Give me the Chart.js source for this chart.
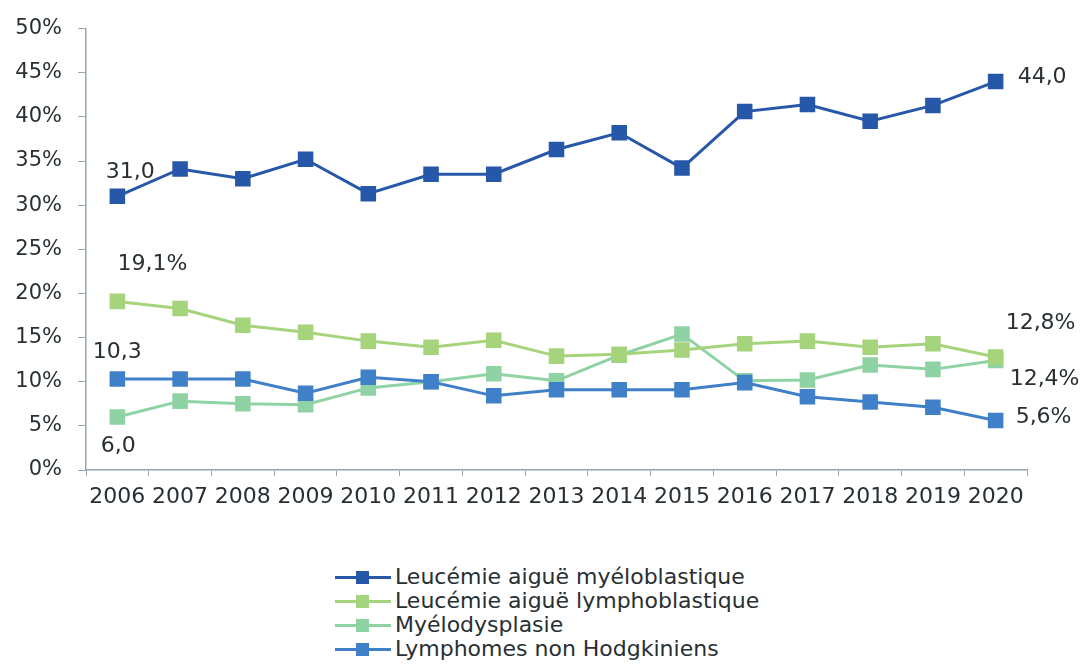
<!DOCTYPE html>
<html>
<head>
<meta charset="utf-8">
<script src="https://cdn.jsdelivr.net/npm/chart.js@4"></script>
<style>
  body { margin: 0; background: #fff; }
  #wrap { position: relative; width: 1089px; height: 668px; }
  #legend { position: absolute; left: 335px; top: 565px; font-family: "DejaVu Sans", sans-serif; font-size: 22px; color: #283033; }
  .item { height: 24px; line-height: 24px; display: flex; align-items: center; }
  .mark { position: relative; width: 56px; height: 24px; margin-right: 4px; }
  .mark .ln { position: absolute; left: 0; right: 0; top: 11px; height: 3px; }
  .mark .sq { position: absolute; left: 21px; top: 6px; width: 13px; height: 13px; }
</style>
</head>
<body>
<div id="wrap">
  <canvas id="chart" width="1089" height="540"></canvas>
  <div id="legend"></div>
</div>
<script>
const years = ['2006', '2007', '2008', '2009', '2010', '2011', '2012', '2013', '2014', '2015', '2016', '2017', '2018', '2019', '2020'];
const seriesNames = ['Leucémie aiguë myéloblastique', 'Leucémie aiguë lymphoblastique', 'Myélodysplasie', 'Lymphomes non Hodgkiniens'];
const lam = [31.0, 34.1, 33.0, 35.2, 31.3, 33.5, 33.5, 36.3, 38.2, 34.2, 40.6, 41.4, 39.5, 41.3, 44.0];
const lal = [19.1, 18.3, 16.4, 15.6, 14.6, 13.9, 14.7, 12.9, 13.1, 13.6, 14.3, 14.6, 13.9, 14.3, 12.8];
const myelo = [6.0, 7.8, 7.5, 7.4, 9.3, 10.0, 10.9, 10.1, 13.0, 15.4, 10.1, 10.2, 11.9, 11.4, 12.4];
const lnh = [10.3, 10.3, 10.3, 8.7, 10.5, 10.0, 8.4, 9.1, 9.1, 9.1, 9.9, 8.3, 7.7, 7.1, 5.6];
const yTicks = [0, 5, 10, 15, 20, 25, 30, 35, 40, 45, 50];

const colors = ['#2757a8', '#a6d47c', '#8fd2a4', '#4080c8'];
const allData = [lam, lal, myelo, lnh];
const drawOrder = [0, 2, 3, 1];

// end labels: [series, point, with %, dx, dy, align]
const endLabels = [
  [0, 0, false, 13, -24, 'center'],
  [1, 0, true, 35, -37, 'center'],
  [3, 0, false, 0, -27, 'center'],
  [2, 0, false, 1, 29, 'center'],
  [0, 14, false, 22, -4, 'left'],
  [1, 14, true, 10, -34, 'left'],
  [2, 14, true, 14, 19, 'left'],
  [3, 14, true, 20, -3, 'left']
];

function fmt(v, pct) {
  return v.toFixed(1).replace('.', ',') + (pct ? '%' : '');
}

const labelPlugin = {
  id: 'endLabels',
  afterDatasetsDraw(chart) {
    const ctx = chart.ctx;
    ctx.save();
    ctx.font = '22px "DejaVu Sans"';
    ctx.fillStyle = '#283033';
    ctx.textBaseline = 'middle';
    endLabels.forEach(l => {
      const pt = chart.getDatasetMeta(l[0]).data[l[1]];
      ctx.textAlign = l[5];
      ctx.fillText(fmt(allData[l[0]][l[1]], l[2]), pt.x + l[3], pt.y + l[4]);
    });
    ctx.restore();
  }
};

const axisColor = '#94a7b0';

new Chart(document.getElementById('chart'), {
  type: 'line',
  data: {
    labels: years,
    datasets: allData.map((d, i) => ({
      label: seriesNames[i],
      data: d,
      borderColor: colors[i],
      backgroundColor: colors[i],
      borderWidth: 3,
      pointStyle: 'rect',
      pointRadius: 11,
      pointHoverRadius: 11,
      pointBorderWidth: 0,
      tension: 0,
      order: drawOrder[i]
    }))
  },
  options: {
    responsive: false,
    animation: false,
    layout: { padding: { left: 0, right: 62, top: 20, bottom: 10 } },
    plugins: { legend: { display: false }, tooltip: { enabled: false } },
    scales: {
      x: {
        offset: true,
        grid: { offset: true, drawOnChartArea: false, drawTicks: true, tickLength: 6, color: axisColor },
        border: { display: true, color: axisColor, width: 1.5 },
        ticks: { color: '#283033', font: { family: 'DejaVu Sans', size: 22 }, padding: 8, maxRotation: 0 },
        afterFit(s) { s.height = 60; }
      },
      y: {
        min: 0,
        max: 50,
        afterBuildTicks(s) { s.ticks = yTicks.map(v => ({ value: v })); },
        grid: { drawOnChartArea: false, drawTicks: true, tickLength: 8, color: axisColor },
        border: { display: true, color: axisColor, width: 1.5 },
        ticks: { color: '#283033', font: { family: 'DejaVu Sans', size: 21 }, padding: 16, callback: v => v + '%' },
        afterFit(s) { s.width = 86; }
      }
    }
  },
  plugins: [labelPlugin]
});

// legend below the chart, one row per series
const legend = document.getElementById('legend');
seriesNames.forEach((name, i) => {
  const row = document.createElement('div');
  row.className = 'item';
  row.innerHTML = '<span class="mark"><span class="ln" style="background:' + colors[i] + '"></span>' +
    '<span class="sq" style="background:' + colors[i] + '"></span></span><span>' + name + '</span>';
  legend.appendChild(row);
});
</script>
</body>
</html>
